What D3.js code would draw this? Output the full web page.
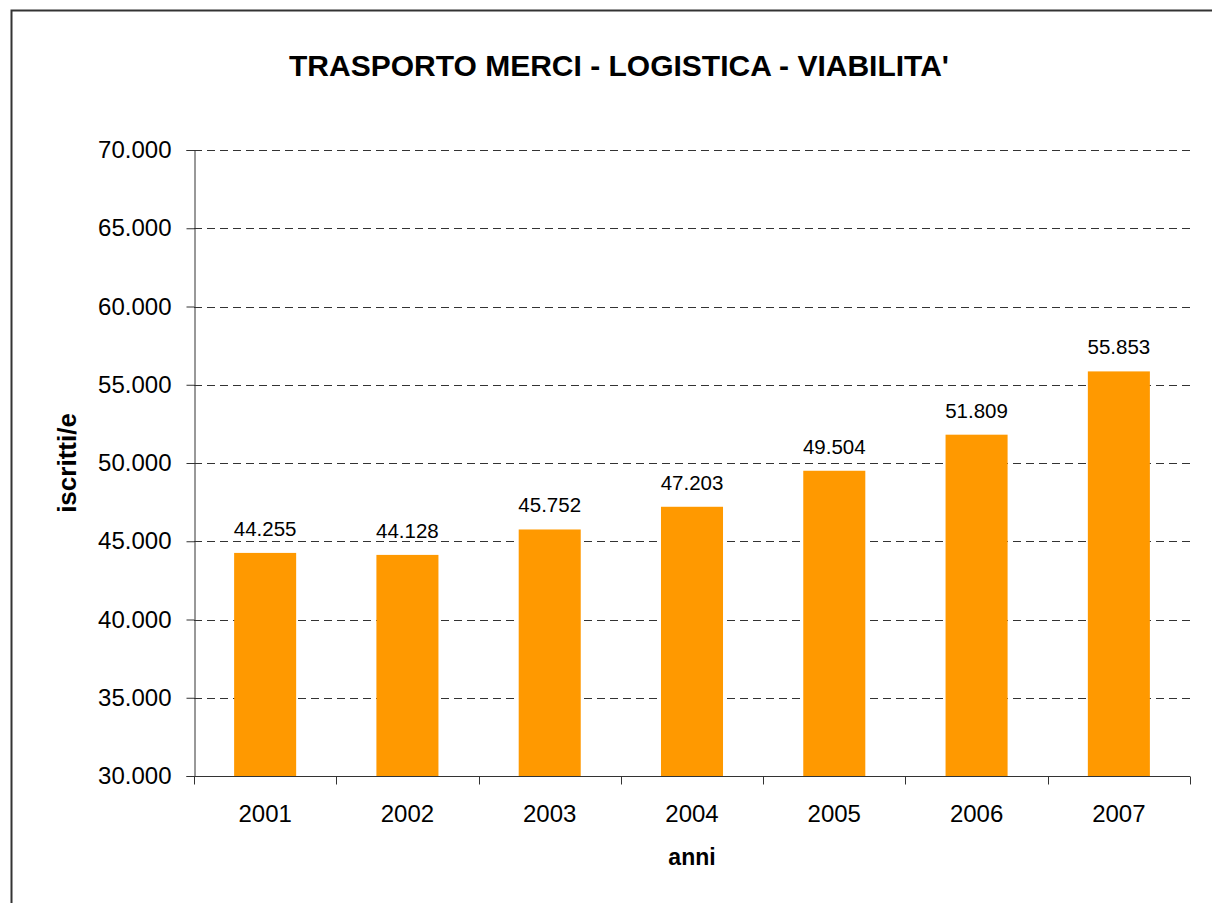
<!DOCTYPE html>
<html>
<head>
<meta charset="utf-8">
<script src="https://cdn.jsdelivr.net/npm/d3@7"></script>
<style>
  body { margin: 0; background: #fff; }
  text { font-family: "Liberation Sans", Arial, sans-serif; fill: #000; }
</style>
</head>
<body>
<div id="chart"></div>
<script>
// data
var years = ["2001", "2002", "2003", "2004", "2005", "2006", "2007"];
var iscritti = [44255, 44128, 45752, 47203, 49504, 51809, 55853];
var yTicks = [30000, 35000, 40000, 45000, 50000, 55000, 60000, 65000, 70000];

var W = 1212, H = 903;
var plotLeft = 194, plotRight = 1190, plotTop = 150, plotBottom = 776;

var fmt = function(v) { return d3.format(",")(v).replace(/,/g, "."); };

var svg = d3.select("#chart").append("svg")
	.attr("width", W)
	.attr("height", H);

// outer frame of the chart
svg.append("rect")
	.attr("x", 11.5)
	.attr("y", 10.5)
	.attr("width", 1240)
	.attr("height", 940)
	.attr("fill", "#fff")
	.attr("stroke", "#333")
	.attr("stroke-width", 2);

var x = d3.scaleBand()
	.domain(years)
	.range([plotLeft, plotRight])
	.paddingInner(0.564)
	.paddingOuter(0.282);

var y = d3.scaleLinear()
	.domain([30000, 70000])
	.range([plotBottom, plotTop]);

// dashed grid lines
svg.append("g").selectAll("line")
	.data(yTicks.filter(function(d) { return d > 30000; }))
	.join("line")
	.attr("x1", plotLeft)
	.attr("x2", plotRight)
	.attr("y1", function(d) { return Math.round(y(d)) + 0.5; })
	.attr("y2", function(d) { return Math.round(y(d)) + 0.5; })
	.attr("stroke", "#333")
	.attr("stroke-width", 1)
	.attr("stroke-dasharray", "8,5");

// bars
svg.append("g").selectAll("rect")
	.data(iscritti)
	.join("rect")
	.attr("x", function(d, i) { return x(years[i]); })
	.attr("y", function(d) { return y(d); })
	.attr("width", x.bandwidth())
	.attr("height", function(d) { return plotBottom - y(d); })
	.attr("fill", "#ff9900");

// value labels
svg.append("g").selectAll("text")
	.data(iscritti)
	.join("text")
	.attr("x", function(d, i) { return x(years[i]) + x.bandwidth() / 2; })
	.attr("y", function(d) { return y(d) - 17; })
	.attr("text-anchor", "middle")
	.attr("font-size", 20.5)
	.text(fmt);

// y axis
var yAxis = svg.append("g")
	.attr("transform", "translate(" + (plotLeft + 0.5) + ",0)")
	.call(d3.axisLeft(y).tickValues(yTicks).tickSize(8).tickPadding(15).tickFormat(fmt));
yAxis.selectAll("text").attr("font-size", 24).attr("font-family", null);
yAxis.select(".domain").attr("stroke", "#333");
yAxis.selectAll(".tick line").attr("stroke", "#333");

// x axis with ticks between categories
var xAxis = svg.append("g")
	.attr("transform", "translate(0," + (plotBottom + 0.5) + ")");
xAxis.append("line")
	.attr("x1", plotLeft)
	.attr("x2", plotRight)
	.attr("stroke", "#333");
var bounds = d3.range(years.length + 1).map(function(i) { return plotLeft + i * x.step(); });
xAxis.selectAll("line.tick")
	.data(bounds)
	.join("line")
	.attr("class", "tick")
	.attr("x1", function(d) { return Math.round(d) + 0.5; })
	.attr("x2", function(d) { return Math.round(d) + 0.5; })
	.attr("y1", 0)
	.attr("y2", 8)
	.attr("stroke", "#333");
xAxis.selectAll("text")
	.data(years)
	.join("text")
	.attr("x", function(d) { return x(d) + x.bandwidth() / 2; })
	.attr("y", 45)
	.attr("text-anchor", "middle")
	.attr("font-size", 24)
	.text(function(d) { return d; });

// titles
svg.append("text")
	.attr("x", 619)
	.attr("y", 76)
	.attr("text-anchor", "middle")
	.attr("font-size", 30)
	.attr("font-weight", "bold")
	.text("TRASPORTO MERCI - LOGISTICA - VIABILITA'");

svg.append("text")
	.attr("x", plotLeft + (plotRight - plotLeft) / 2)
	.attr("y", 865)
	.attr("text-anchor", "middle")
	.attr("font-size", 23)
	.attr("font-weight", "bold")
	.text("anni");

svg.append("text")
	.attr("transform", "translate(76," + ((plotTop + plotBottom) / 2) + ") rotate(-90)")
	.attr("text-anchor", "middle")
	.attr("font-size", 26)
	.attr("font-weight", "bold")
	.text("iscritti/e");
</script>
</body>
</html>
